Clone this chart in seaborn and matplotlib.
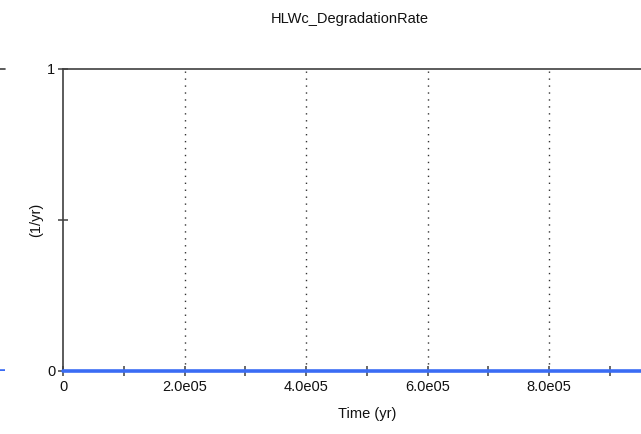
import matplotlib
matplotlib.use("Agg")
import matplotlib.pyplot as plt
import seaborn as sns
import pandas as pd
import numpy as np

# Degradation rate history
time_yr = [0.0, 1.0e6]
rate = [0.0, 0.0]
x_major = [0, 2.0e5, 4.0e5, 6.0e5, 8.0e5, 1.0e6]
x_labels = ["0", "2.0e05", "4.0e05", "6.0e05", "8.0e05", ""]
y_ticks = [0, 0.5, 1]
y_labels = ["0", "", "1"]

sns.set_theme(style="white")
plt.rcParams["font.family"] = ["Liberation Sans", "DejaVu Sans"]

df = pd.DataFrame({"Time (yr)": time_yr, "rate": rate})

W, H = 641, 434
fig = plt.figure(figsize=(W / 100, H / 100), dpi=100)
fig.patch.set_facecolor("white")

line_color = "#3a6cf4"
spine_color = "#404040"
text_color = "#111111"
fs = 10.5

left, right_px = 63, 670.5
top, bottom = 69, 371
ax = fig.add_axes([left / W, (H - bottom) / H, (right_px - left) / W, (bottom - top) / H])

# neighbouring panel on the left, mostly outside the canvas
ax0 = fig.add_axes([-0.6, (H - bottom) / H, 0.608, (bottom - top) / H])
sns.lineplot(data=df, x="Time (yr)", y="rate", ax=ax0, color=line_color, linewidth=2.6)
ax0.set_ylim(0, 1)
ax0.set_xlim(0, 1.0e6)
ax0.axis("off")
ax0.axhline(1, color=spine_color, lw=1.2, clip_on=False)

sns.lineplot(data=df, x="Time (yr)", y="rate", ax=ax, color=line_color,
             linewidth=2.6, zorder=5, clip_on=False)

ax.set_xlim(0, 1.0e6)
ax.set_ylim(0, 1)
ax.set_xticks(x_major)
ax.set_xticklabels(x_labels)
ax.set_xticks(np.arange(1.0e5, 1.0e6, 2.0e5), minor=True)
ax.set_yticks(y_ticks)
ax.set_yticklabels(y_labels)

for s in ["left", "top", "bottom", "right"]:
    ax.spines[s].set_color(spine_color)
    ax.spines[s].set_linewidth(1.2)

ax.tick_params(axis="both", which="both", direction="inout", length=7, width=1.1,
               color=spine_color, labelsize=fs, labelcolor=text_color)
ax.tick_params(axis="x", which="both", bottom=True, pad=3)
ax.tick_params(axis="y", left=True, pad=2)

for xv in x_major[1:-1]:
    ax.axvline(xv, color="#333333", lw=1.0, ls=(0, (1, 4)), zorder=1)

ax.set_xlabel("Time (yr)", fontsize=fs, color=text_color, labelpad=9)
ax.set_ylabel("(1/yr)", fontsize=fs, color=text_color, labelpad=3)
ax.set_facecolor("white")

fig.text(350 / W, 1 - 19 / H, "HLWc_DegradationRate", ha="center", va="center",
         fontsize=fs, color=text_color)

fig.savefig("out.png", dpi=100, facecolor="white")
